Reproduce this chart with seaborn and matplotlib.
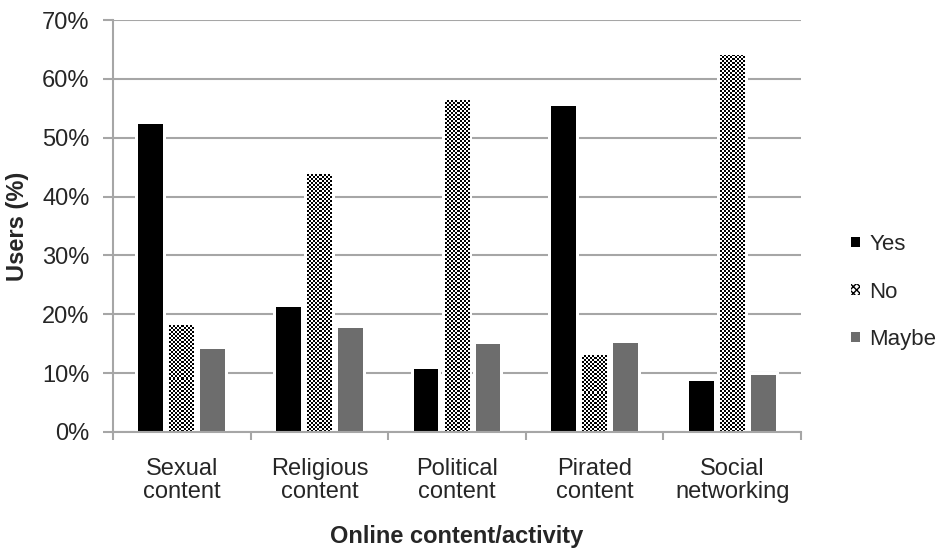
import numpy as np
import pandas as pd
import matplotlib
matplotlib.use("Agg")
import matplotlib.pyplot as plt
from matplotlib.patches import Patch, Rectangle
import seaborn as sns

# Survey results: share of users answering per online content/activity
categories = ["Sexual\ncontent", "Religious\ncontent", "Political\ncontent",
              "Pirated\ncontent", "Social\nnetworking"]
answers = ["Yes", "No", "Maybe"]
yes_vals = [52.4, 21.3, 10.7, 55.4, 8.7]
no_vals = [18.1, 43.8, 56.4, 13.0, 64.1]
maybe_vals = [14.1, 17.7, 14.9, 15.1, 9.7]
y_ticks = [0, 10, 20, 30, 40, 50, 60, 70]

df = pd.DataFrame({
    "category": categories * 3,
    "answer": [a for a in answers for _ in categories],
    "value": yes_vals + no_vals + maybe_vals,
})

sns.set_theme(style="white")
plt.rcParams["font.family"] = ["Liberation Sans", "DejaVu Sans"]

GRID = "#a6a6a6"
palette = {"Yes": "#000000", "No": "#ffffff", "Maybe": "#6d6d6d"}

fig = plt.figure(figsize=(9.36, 5.52), dpi=100)
ax = fig.add_axes([113 / 936, 1 - 432 / 552, (801 - 113) / 936, (432 - 20) / 552])

sns.barplot(data=df, x="category", y="value", hue="answer", order=categories,
            hue_order=answers, palette=palette, width=0.676, gap=0.2,
            linewidth=0, saturation=1, legend=False, ax=ax, zorder=3)

ax.set_ylim(0, 70)
ax.set_xlim(-0.5, len(categories) - 0.5)
ax.set_yticks(y_ticks)
ax.set_yticklabels([f"{t}%" for t in y_ticks])
ax.yaxis.grid(True, color=GRID, linewidth=1.5, zorder=0)
ax.set_axisbelow(True)

fig.canvas.draw()
# data units per pixel, used for the white halo around each bar
dx_px = 1.0 / (ax.transData.transform((1, 0))[0] - ax.transData.transform((0, 0))[0])
dy_px = 1.0 / (ax.transData.transform((0, 1))[1] - ax.transData.transform((0, 0))[1])
halo = 3.0

for cont in ax.containers:
    for bar in cont:
        x0, y0 = bar.get_x(), bar.get_y()
        w, h = bar.get_width(), bar.get_height()
        ax.add_patch(Rectangle((x0 - halo * dx_px, y0), w + 2 * halo * dx_px,
                               h + halo * dy_px, facecolor="white",
                               linewidth=0, zorder=2.5))

# checkerboard fill for the "No" bars
for bar in ax.containers[1]:
    x0, y0 = bar.get_x(), bar.get_y()
    w, h = bar.get_width(), bar.get_height()
    (px0, py0), (px1, py1) = ax.transData.transform([(x0, y0), (x0 + w, y0 + h)])
    nx = max(1, int(round((px1 - px0) / 2.0)))
    ny = max(1, int(round((py1 - py0) / 2.0)))
    checker = (np.indices((ny, nx)).sum(axis=0) % 2).astype(float)
    img = ax.imshow(checker, cmap="gray", vmin=0, vmax=1, aspect="auto",
                    interpolation="nearest", extent=(x0, x0 + w, y0, y0 + h),
                    origin="lower", zorder=3.5)
    img.set_clip_path(bar)
ax.set_ylim(0, 70)
ax.set_xlim(-0.5, len(categories) - 0.5)

for side in ("top", "right"):
    ax.spines[side].set_visible(False)
for side in ("left", "bottom"):
    ax.spines[side].set_color(GRID)
    ax.spines[side].set_linewidth(1.5)
    ax.spines[side].set_zorder(4)

ax.tick_params(axis="y", which="major", length=7, width=1.5, color=GRID,
               labelsize=17, pad=10, left=True)
ax.set_xticks(np.arange(-0.5, len(categories), 1.0), minor=True)
ax.tick_params(axis="x", which="minor", length=6, width=1.5, color=GRID, bottom=True)
ax.tick_params(axis="x", which="major", length=0, labelsize=17, pad=19)
for lbl in ax.get_xticklabels():
    lbl.set_linespacing(1.05)

ax.set_xlabel("Online content/activity", fontsize=17, fontweight="bold", labelpad=16)
ax.set_ylabel("Users (%)", fontsize=17, fontweight="bold", labelpad=9)

handles = [
    Patch(facecolor="#000000", edgecolor="#000000", linewidth=0),
    Patch(facecolor="white", edgecolor="black", hatch="xxxxx", linewidth=0),
    Patch(facecolor="#6d6d6d", edgecolor="#6d6d6d", linewidth=0),
]
fig.legend(handles, answers, loc="center left", bbox_to_anchor=(851 / 936, 1 - 292 / 552),
           frameon=False, fontsize=16, handlelength=0.42, handleheight=0.33,
           handletextpad=0.4, labelspacing=1.2, borderaxespad=0, borderpad=0)

fig.savefig("out.png", dpi=100, facecolor="white")
